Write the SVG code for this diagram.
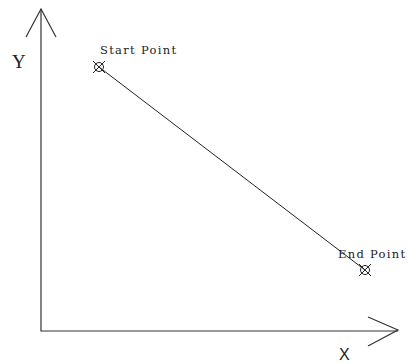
<svg xmlns="http://www.w3.org/2000/svg" width="408" height="364" viewBox="0 0 408 364">
<style>
.ax{stroke:#333;stroke-width:1.2;fill:none}
.ln{stroke:#222;stroke-width:1;fill:none}
.lbl{font-family:"DejaVu Serif","Liberation Serif",serif;font-size:11.5px;letter-spacing:1.3px;fill:#222}
.ys{font-family:"Liberation Serif",serif;font-size:19px;fill:#222}
.xs{font-family:"Liberation Sans",sans-serif;font-size:16px;fill:#222}
</style>
<defs>
<g id="pt" class="ln">
<circle r="4.5"/>
<path d="M-6,-6L6,6M6,-6L-6,6"/>
</g>
</defs>
<rect width="408" height="364" fill="#fff"/>
<g id="connectors">
<path class="ax" d="M41,9V331H398"/>
<path class="ax" d="M26,37L41,9L56,37"/>
<path class="ax" d="M368,317L398,330L368,346"/>
<path class="ln" d="M99,67L365,270"/>
</g>
<g id="start"><use href="#pt" x="99" y="67"/><text class="lbl" x="100" y="54">Start Point</text></g>
<g id="end"><use href="#pt" x="365" y="270"/><text class="lbl" x="338" y="258">End Point</text></g>
<text class="ys" x="12" y="68">Y</text>
<text class="xs" x="339" y="360">X</text>
</svg>
